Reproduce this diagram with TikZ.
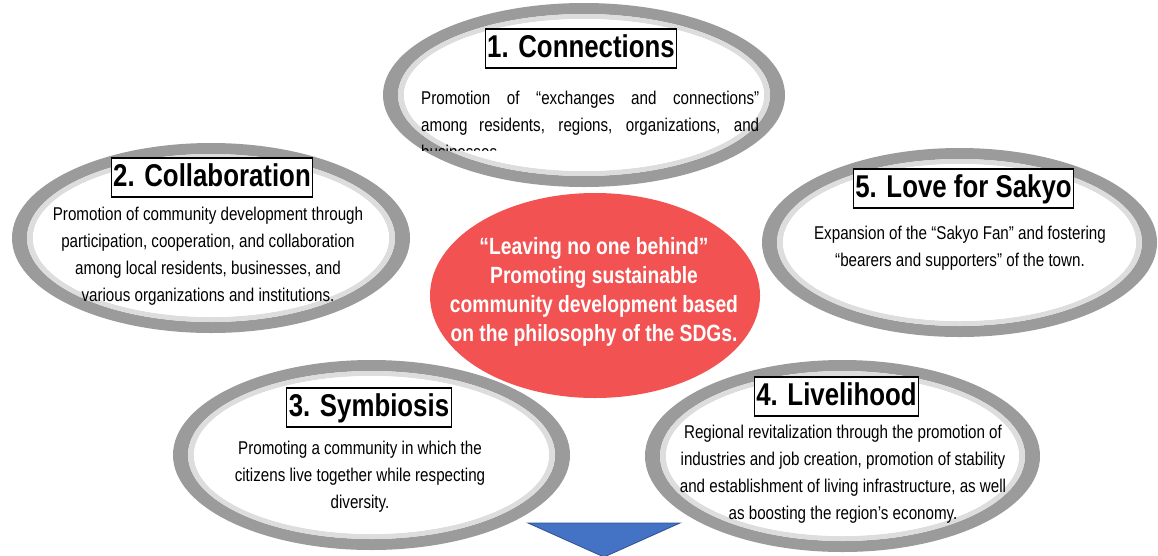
\documentclass[tikz,border=0pt]{standalone}
\usepackage{fontspec}
\setmainfont{Liberation Sans}
\newfontfamily\cond[FakeStretch=0.82]{Liberation Sans}
\definecolor{ringdark}{RGB}{155,155,155}
\definecolor{ringlight}{RGB}{221,221,221}
\definecolor{hub}{RGB}{243,82,82}
\definecolor{tri}{RGB}{68,114,196}
\definecolor{triedge}{RGB}{47,82,143}
\newcommand\myring[4]{%
  \pgfmathsetmacro\ra{#3-15}\pgfmathsetmacro\rb{#4-11}%
  \pgfmathsetmacro\rc{#3-21}\pgfmathsetmacro\rd{#4-16}%
  \fill[ringdark,even odd rule] (#1,#2) ellipse [x radius=#3,y radius=#4] (#1,#2) ellipse [x radius=\ra,y radius=\rb];
  \fill[ringlight,even odd rule] (#1,#2) ellipse [x radius=\ra,y radius=\rb] (#1,#2) ellipse [x radius=\rc,y radius=\rd];
  \fill[white] (#1,#2) ellipse [x radius=\rc,y radius=\rd];
}
\tikzset{
  titlebox/.style={draw=black, line width=1.3pt, fill=white,
    font=\cond\bfseries\fontsize{31.5}{36}\selectfont,
    inner xsep=2pt, inner ysep=4.5pt, text height=24pt, text depth=6pt},
  body/.style={font=\cond\fontsize{18.5}{27}\selectfont, align=center, text=black},
  hubtext/.style={font=\cond\bfseries\fontsize{23.5}{29}\selectfont, align=center, text=white},
}
\begin{document}
\begin{tikzpicture}[x=1pt,y=-1pt]
\useasboundingbox (0,0) rectangle (1158,555);
% rings
\myring{584}{95}{201}{92}
\myring{211}{238}{199}{95}
\myring{959.5}{242.5}{197.5}{94.5}
\myring{371.5}{455}{198.5}{95}
\myring{842.5}{456}{197.5}{96}
% central ellipse
\fill[hub] (595,295.5) ellipse [x radius=165, y radius=102.5];
\node[hubtext] (hubtxt) at (594,292) {“Leaving no one behind”\\Promoting sustainable\\community development based\\on the philosophy of the SDGs.};
% titles
\node[titlebox] (t1) at (581,48.5) {1. Connections};
\node[titlebox] (t2) at (212,177.5) {2. Collaboration};
\node[titlebox] (t5) at (963.5,188.5) {5. Love for Sakyo};
\node[titlebox] (t3) at (369,407.5) {3. Symbiosis};
\node[titlebox] (t4) at (836.5,396.5) {4. Livelihood};
% body texts
\begin{scope}
\clip (380,0) rectangle (790,150);
\node[body, align=justify, text width=338pt, inner sep=0pt, anchor=base west] (b1) at (421,104)
  {Promotion of “exchanges and connections”\linebreak among residents, regions, organizations, and\linebreak businesses.};
\end{scope}
\node[body] (b2) at (208,256.5) {Promotion of community development through\\participation, cooperation, and collaboration\\among local residents, businesses, and\\various organizations and institutions.};
\node[body] (b5) at (960,248.5) {Expansion of the “Sakyo Fan” and fostering\\“bearers and supporters” of the town.};
\node[body] (b3) at (360,476.5) {Promoting a community in which the\\citizens live together while respecting\\diversity.};
\node[body] (b4) at (843,474.5) {Regional revitalization through the promotion of\\industries and job creation, promotion of stability\\and establishment of living infrastructure, as well\\as boosting the region’s economy.};
% arrow
\filldraw[fill=tri, draw=triedge, line width=0.8pt] (528,523) -- (680,523) -- (604,557) -- cycle;
\end{tikzpicture}
\end{document}
